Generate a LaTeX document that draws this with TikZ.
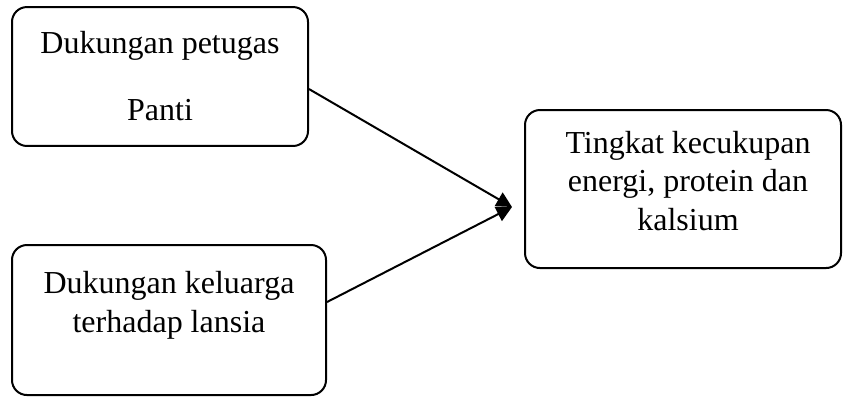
\documentclass[tikz,border=0pt]{standalone}
\usepackage{fontspec}
\setmainfont{Liberation Serif}
\usetikzlibrary{arrows.meta}

\begin{document}
\begin{tikzpicture}[x=0.375pt, y=-0.375pt,
    kotak/.style={rectangle, rounded corners=5.6pt, draw=black, line width=0.75pt, inner sep=0pt},
    teks/.style={font=\fontsize{12}{14.3}\selectfont, align=center, inner sep=0pt, anchor=base},
    panah/.style={-{Triangle[length=5.8pt, width=5.8pt]}, line width=0.75pt}]
    \useasboundingbox (0,0) rectangle (843,396);

    \node (petugas) [kotak, minimum width=111pt, minimum height=52.1pt] at (160,76.5) {};
    \node (keluarga) [kotak, minimum width=117.75pt, minimum height=56.25pt] at (169,320) {};
    \node (kecukupan) [kotak, minimum width=118.5pt, minimum height=59.25pt] at (683,189) {};

    % base = baseline of the last line
    \node (petugasteks) [teks, font=\fontsize{12}{25}\selectfont] at (160,120) {Dukungan petugas\\Panti};
    \node (keluargateks) [teks] at (169,332) {Dukungan keluarga\\terhadap lansia};
    \node (kecukupanteks) [teks] at (688,230) {Tingkat kecukupan\\energi, protein dan\\kalsium};

    \coordinate (ujung) at (512,207);
    \draw[panah] ([yshift=-4.7pt]petugas.east) -- (ujung);
    \draw[panah] ([yshift=6.75pt]keluarga.east) -- (ujung);
\end{tikzpicture}
\end{document}
